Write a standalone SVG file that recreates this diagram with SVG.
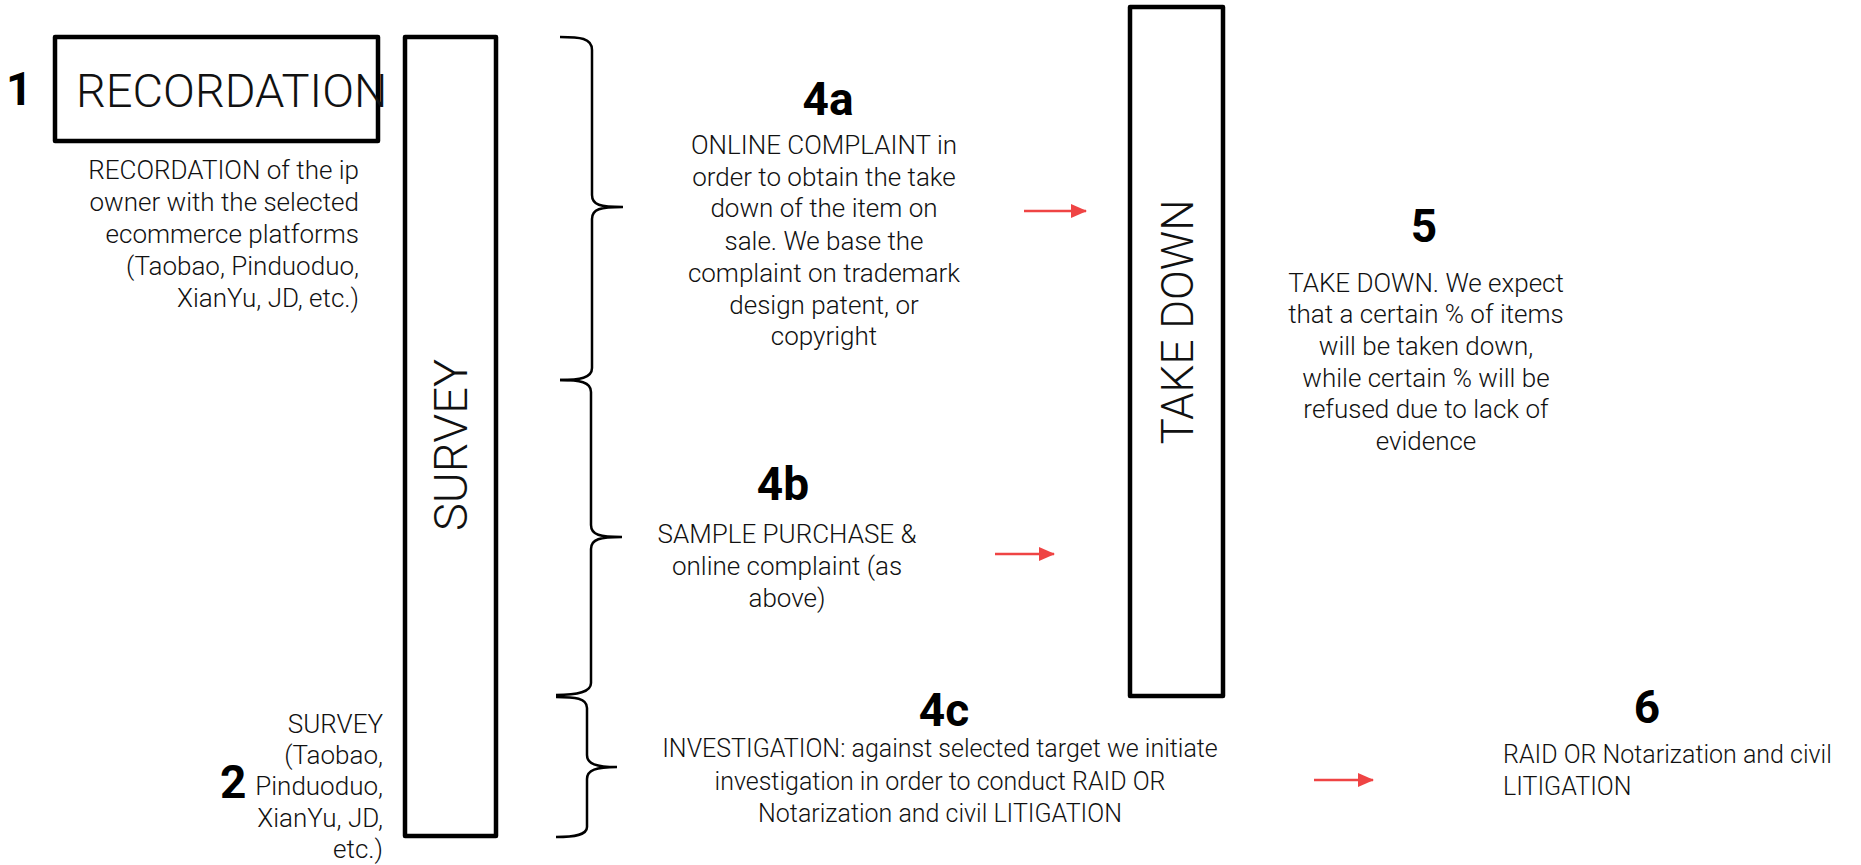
<svg xmlns="http://www.w3.org/2000/svg" width="1861" height="865" viewBox="0 0 1861 865">
<style>
.box{fill:none;stroke:#000;stroke-width:4.5;stroke-linejoin:round}
.brace{fill:none;stroke:#000;stroke-width:2.5}
.arrow{stroke:#ef4444;stroke-width:2.5;fill:none}
.num{font-family:Roboto,"Liberation Sans",sans-serif;font-weight:700;font-size:46px;fill:#000}
.t{font-family:Roboto,"Liberation Sans",sans-serif;font-weight:300;font-size:26px;fill:#111}
.big{font-family:Roboto,"Liberation Sans",sans-serif;font-weight:300;font-size:47px;fill:#111}
.c{text-anchor:middle}
.r{text-anchor:end}
</style>
<defs>
<marker id="ah" markerWidth="16" markerHeight="14" refX="15" refY="7" orient="auto" markerUnits="userSpaceOnUse">
<path d="M0,0 L16,7 L0,14 Z" fill="#ef4444"/>
</marker>
</defs>
<g id="connectors">
<path class="brace" d="M560,37 C580,37 592,38 592,50 L592,195 C592,205 600,207 623,207 C600,207 592,209 592,219 L592,368 C592,378 580,380 560,380"/>
<path class="brace" d="M560,380 C580,380 591,382 591,392 L591,525 C591,535 600,537 622,537 C600,537 591,539 591,549 L591,683 C591,692 578,695 556,695"/>
<path class="brace" d="M556,697 C575,697 587,698 587,708 L587,755 C587,764 596,767 617,767 C596,767 587,770 587,779 L587,827 C587,835 575,837 556,837"/>
<line class="arrow" x1="1024" y1="211" x2="1086" y2="211" marker-end="url(#ah)"/>
<line class="arrow" x1="995" y1="554" x2="1054" y2="554" marker-end="url(#ah)"/>
<line class="arrow" x1="1314" y1="780" x2="1373" y2="780" marker-end="url(#ah)"/>
</g>
<g id="node-recordation">
<text class="num" x="6" y="105">1</text>
<rect class="box" x="55" y="37" width="323" height="104"/>
<text class="big" x="76" y="107">RECORDATION</text>
<text class="t r" x="359" y="179">RECORDATION of the ip</text>
<text class="t r" x="359" y="211">owner with the selected</text>
<text class="t r" x="359" y="243">ecommerce platforms</text>
<text class="t r" x="359" y="275">(Taobao, Pinduoduo,</text>
<text class="t r" x="359" y="307">XianYu, JD, etc.)</text>
</g>
<g id="node-survey">
<rect class="box" x="405" y="37" width="91" height="799"/>
<text class="big c" transform="translate(467,445) rotate(-90)" x="0" y="0">SURVEY</text>
<text class="t r" x="383" y="733">SURVEY</text>
<text class="t r" x="383" y="764">(Taobao,</text>
<text class="t r" x="383" y="795">Pinduoduo,</text>
<text class="t r" x="383" y="827">XianYu, JD,</text>
<text class="t r" x="383" y="858">etc.)</text>
<text class="num" x="220" y="798">2</text>
</g>
<g id="node-4a">
<text class="num c" x="828" y="115">4a</text>
<text class="t c" x="824" y="154">ONLINE COMPLAINT in</text>
<text class="t c" x="824" y="186">order to obtain the take</text>
<text class="t c" x="824" y="217">down of the item on</text>
<text class="t c" x="824" y="250">sale. We base the</text>
<text class="t c" x="824" y="282">complaint on trademark</text>
<text class="t c" x="824" y="314">design patent, or</text>
<text class="t c" x="824" y="345">copyright</text>
</g>
<g id="node-4b">
<text class="num c" x="783" y="500">4b</text>
<text class="t c" x="787" y="543">SAMPLE PURCHASE &amp;</text>
<text class="t c" x="787" y="575">online complaint (as</text>
<text class="t c" x="787" y="607">above)</text>
</g>
<g id="node-4c">
<text class="num c" x="944" y="726">4c</text>
<text class="t c" style="font-size:25px" x="940" y="757">INVESTIGATION: against selected target we initiate</text>
<text class="t c" style="font-size:25px" x="940" y="790">investigation in order to conduct RAID OR</text>
<text class="t c" style="font-size:25px" x="940" y="822">Notarization and civil LITIGATION</text>
</g>
<g id="node-takedown">
<rect class="box" x="1130" y="7" width="93" height="689"/>
<text class="big c" style="font-size:44px" transform="translate(1193,322) rotate(-90)" x="0" y="0">TAKE DOWN</text>
</g>
<g id="node-5">
<text class="num c" x="1424" y="242">5</text>
<text class="t c" x="1426" y="292">TAKE DOWN. We expect</text>
<text class="t c" x="1426" y="323">that a certain % of items</text>
<text class="t c" x="1426" y="355">will be taken down,</text>
<text class="t c" x="1426" y="387">while certain % will be</text>
<text class="t c" x="1426" y="418">refused due to lack of</text>
<text class="t c" x="1426" y="450">evidence</text>
</g>
<g id="node-6">
<text class="num c" x="1647" y="723">6</text>
<text class="t" style="font-size:25px" x="1503" y="763">RAID OR Notarization and civil</text>
<text class="t" style="font-size:25px" x="1503" y="795">LITIGATION</text>
</g>
</svg>
